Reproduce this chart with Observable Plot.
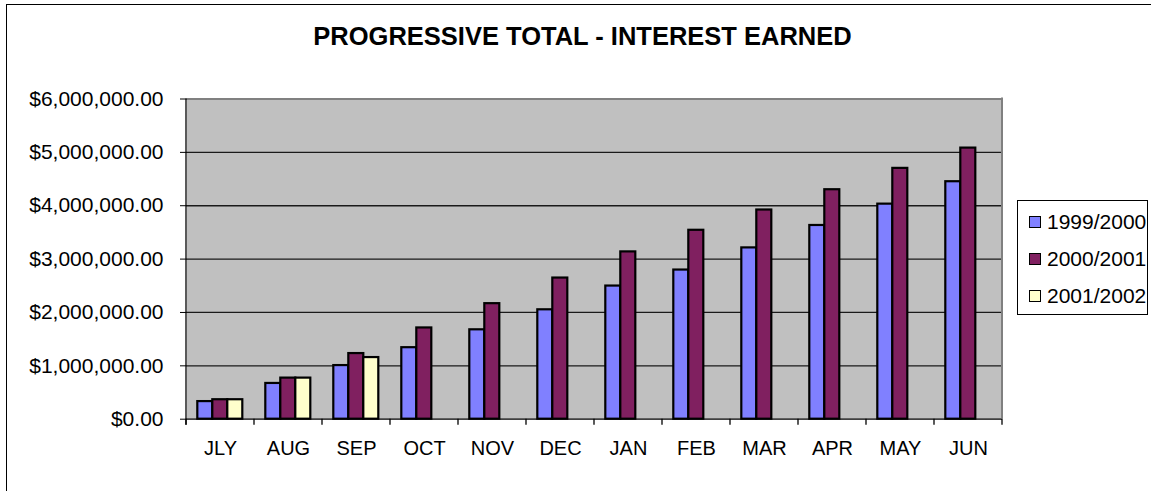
<!DOCTYPE html>
<html>
<head>
<meta charset="utf-8">
<script src="https://cdn.jsdelivr.net/npm/d3@7"></script>
<script src="https://cdn.jsdelivr.net/npm/@observablehq/plot@0.6"></script>
<style>
  html, body { margin: 0; padding: 0; background: #fff; }
  #wrap { position: relative; width: 1151px; height: 491px; overflow: hidden; font-family: "Liberation Sans", Arial, sans-serif; }
  #border { position: absolute; left: 6px; top: 4px; width: 1160px; height: 500px; border-left: 1px solid #000; border-top: 1px solid #000; }
  #title { position: absolute; left: 0; width: 1165px; top: 22px; text-align: center; font-weight: bold; font-size: 25.5px; color: #000; }
  #chart { position: absolute; left: 0; top: 60px; }
  #legend { position: absolute; left: 1017px; top: 200px; width: 131px; height: 115px; border: 1px solid #000; background: #fff; box-sizing: border-box; }
  .item { position: absolute; left: 11px; font-size: 21px; line-height: 21px; white-space: nowrap; }
  .sw { display: inline-block; width: 10px; height: 10px; border: 1px solid #000; margin-right: 6px; vertical-align: 1px; }
</style>
</head>
<body>
<div id="wrap">
  <div id="border"></div>
  <div id="title">PROGRESSIVE TOTAL - INTEREST EARNED</div>
  <div id="chart"></div>
  <div id="legend"></div>
</div>
<script>
// ---- data ----
const months = ["JLY", "AUG", "SEP", "OCT", "NOV", "DEC", "JAN", "FEB", "MAR", "APR", "MAY", "JUN"];
const series = ["1999/2000", "2000/2001", "2001/2002"];
const colors = ["#8080FF", "#802060", "#FFFFCC"];
const values1999 = [330000, 670000, 1005000, 1340000, 1675000, 2050000, 2495000, 2795000, 3210000, 3630000, 4030000, 4450000];
const values2000 = [365000, 770000, 1230000, 1710000, 2165000, 2645000, 3135000, 3540000, 3920000, 4300000, 4700000, 5080000];
const values2001 = [365000, 770000, 1155000, null, null, null, null, null, null, null, null, null];
const yTicks = [0, 1000000, 2000000, 3000000, 4000000, 5000000, 6000000];

const seriesValues = [values1999, values2000, values2001];
const data = [];
months.forEach((m, i) => {
  series.forEach((s, j) => {
    const v = seriesValues[j][i];
    if (v != null) data.push({month: m, series: s, value: v});
  });
});

const fmt = d3.format("$,.2f");

const chart = Plot.plot({
  width: 1151,
  height: 431,
  marginLeft: 181.7,
  marginRight: 145.3,
  marginTop: 38.5,
  marginBottom: 72.3,
  style: {fontFamily: "'Liberation Sans', Arial, sans-serif", color: "#000", background: "transparent"},
  fx: {domain: months, padding: 0, label: null},
  x: {domain: series, paddingInner: 0, paddingOuter: 0.75, axis: null},
  y: {domain: [0, 6000000], axis: null},
  color: {domain: series, range: colors},
  marks: [
    Plot.frame({fill: "#C0C0C0", stroke: null, shapeRendering: "crispEdges"}),
    Plot.gridY(yTicks.slice(1, -1), {stroke: "#1a1a1a", strokeOpacity: 1, strokeWidth: 1.3}),
    Plot.ruleY([6000000], {stroke: "#808080", strokeWidth: 2}),
    Plot.barY(data, {fx: "month", x: "series", y: "value", fill: "series", stroke: "#000", strokeWidth: 2.2}),
    Plot.ruleY([0], {stroke: "#000", strokeWidth: 1.3}),
    Plot.axisY(yTicks, {anchor: "left", tickFormat: fmt, tickSize: 6, tickPadding: 17, fontSize: 21, stroke: "#000", fill: "#000", label: null}),
    Plot.axisFx({anchor: "bottom", tickSize: 0, tickPadding: 22, fontSize: 20, fill: "#000", label: null})
  ]
});
document.getElementById("chart").appendChild(chart);

// Excel-style axis line, right border and category boundary ticks, placed with the plot's own scales
const fx = chart.scale("fx");
const y = chart.scale("y");
const svg = d3.select(chart);
const g = svg.append("g");
const y0 = y.apply(0), y6 = y.apply(6000000);
const left = fx.apply(months[0]);
const right = fx.apply(months[months.length - 1]) + fx.bandwidth;
g.append("line").attr("x1", right).attr("x2", right).attr("y1", y6 - 1).attr("y2", y0)
  .attr("stroke", "#808080").attr("stroke-width", 2);
g.append("line").attr("x1", left).attr("x2", left).attr("y1", y6).attr("y2", y0 + 6)
  .attr("stroke", "#000").attr("stroke-width", 1.3);
const edges = months.map(m => fx.apply(m)).concat([right]);
edges.forEach(x => {
  g.append("line").attr("x1", x).attr("x2", x).attr("y1", y0).attr("y2", y0 + 6)
    .attr("stroke", "#000").attr("stroke-width", 1.3);
});

// legend built from the series and colour arrays
const legend = document.getElementById("legend");
const legendTops = [10, 47, 84];
series.forEach((s, i) => {
  const it = document.createElement("div");
  it.className = "item";
  it.style.top = legendTops[i] + "px";
  const sw = document.createElement("span");
  sw.className = "sw";
  sw.style.background = colors[i];
  it.appendChild(sw);
  it.appendChild(document.createTextNode(s));
  legend.appendChild(it);
});
</script>
</body>
</html>
